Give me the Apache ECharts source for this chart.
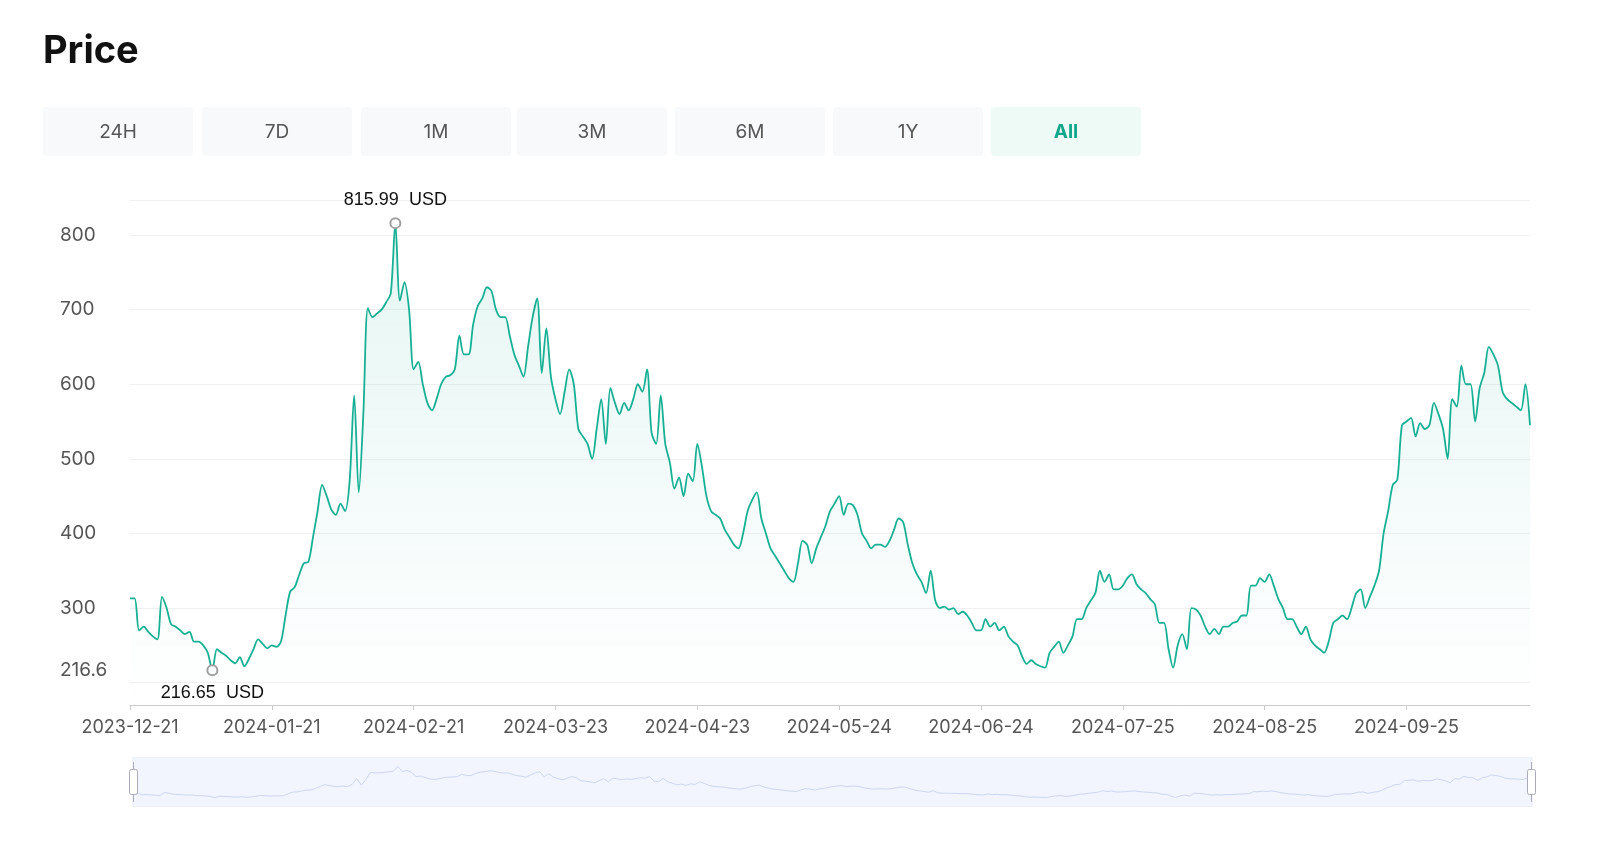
<!DOCTYPE html>
<html><head><meta charset="utf-8">
<script src="https://cdn.jsdelivr.net/npm/echarts@6/dist/echarts.min.js"></script>
<style>
body{margin:0;background:#fff;font-family:Inter,"Noto Sans",sans-serif;width:1600px;height:846px;overflow:hidden;position:relative}
#title{position:absolute;left:43px;top:26px;font-size:38px;font-weight:700;color:#111}
.btn{position:absolute;top:107px;height:49px;width:150px;background:#f7f9fa;border-radius:4px;color:#555;font-size:19px;display:flex;align-items:center;justify-content:center}
.btn.on{background:#eefaf6;color:#12a68a;font-weight:700}
#chart{position:absolute;left:0;top:0;width:1600px;height:846px}
</style></head><body>
<div id="chart"></div>
<div id="title">Price</div>
<div id="btns"></div>
<script>
const buttons=["24H","7D","1M","3M","6M","1Y","All"];
const buttonX=[43,202,361,517,675,833,991];
const startDate="2023-12-21";
const yLabels=[216.6,300,400,500,600,700,800];
const prices=[
313,313,270,275,268,262,258,315,300,278,
275,270,265,268,255,255,250,240,216.65,245,
240,236,230,226,234,222,232,245,258,252,
246,250,248,255,290,322,328,345,360,362,
395,430,465,450,432,425,440,430,470,585,
455,560,702,690,695,700,710,722,815.99,712,
737,700,620,630,600,575,565,580,600,610,
612,620,665,640,640,680,705,715,730,725,
700,690,690,665,640,625,610,650,690,715,
615,675,610,580,560,590,620,600,540,530,
520,500,540,580,520,595,575,560,575,565,
580,600,590,620,535,520,585,520,495,460,
475,450,480,470,520,490,450,430,425,420,
405,395,385,380,400,430,445,455,420,400,
380,370,360,350,340,335,360,390,385,360,
380,395,410,430,440,450,425,440,438,425,
400,390,380,385,385,382,390,405,420,415,
385,360,345,335,320,350,310,300,302,298,
300,292,295,290,280,270,270,285,275,280,
270,275,262,255,250,235,225,230,225,222,
220,240,248,255,240,250,262,285,285,300,
310,320,350,335,345,325,325,330,340,345,
332,325,320,312,305,280,280,245,220,250,
265,245,300,298,290,275,265,272,265,275,
275,280,282,290,290,330,330,340,335,345,
330,312,300,285,285,275,265,275,258,250,
245,240,255,280,285,290,285,300,320,325,
300,315,330,350,400,430,465,472,545,550,
555,530,548,540,545,575,560,540,500,580,
570,625,600,600,550,595,615,650,640,625,
590,580,575,570,565,600,545];

const bc=document.getElementById('btns');
buttons.forEach((b,i)=>{const d=document.createElement('div');d.className='btn'+(b==='All'?' on':'');d.style.left=buttonX[i]+'px';d.textContent=b;bc.appendChild(d);});

const dates=[];
const d0=new Date(startDate+"T00:00:00Z");
for(let i=0;i<prices.length;i++){const d=new Date(d0.getTime()+i*86400000);dates.push(d.toISOString().slice(0,10));}

const chart=echarts.init(document.getElementById('chart'));
chart.setOption({
  animation:false,
  grid:{left:130,right:70,top:200,bottom:141},
  xAxis:{type:'category',data:dates,boundaryGap:false,
    axisLine:{lineStyle:{color:'#ccc'}},
    axisTick:{interval:30,lineStyle:{color:'#ccc'}},
    axisLabel:{interval:30,color:'#555',fontSize:18,margin:14,fontFamily:'Inter'}},
  yAxis:{type:'value',min:170,max:847,
    axisLine:{show:false},axisTick:{show:false},
    axisLabel:{customValues:yLabels,color:'#555',fontSize:19,align:'left',margin:70,fontFamily:'Inter',
      formatter:v=>String(v)},
    splitLine:{show:true,lineStyle:{color:'#f0f0f0'}}},
  dataZoom:[{type:'slider',start:0,end:100,left:130,right:70,top:757,height:50,
    borderColor:'#eef0f8',backgroundColor:'#f8f9fe',fillerColor:'rgba(238,241,253,0.6)',
    dataBackground:{lineStyle:{color:'#9aabe0',width:1},areaStyle:{color:'rgba(220,226,245,0.1)'}},
    selectedDataBackground:{lineStyle:{color:'#9aabe0',width:1},areaStyle:{color:'rgba(220,226,245,0.1)'}},
    handleSize:'80%',showDetail:false,moveHandleSize:0,
    handleStyle:{color:'#fff',borderColor:'#aab'}}],
  series:[{type:'line',data:prices,symbol:'none',smooth:0.3,
    lineStyle:{color:'#17b095',width:1.8},
    areaStyle:{color:new echarts.graphic.LinearGradient(0,0,0,1,[{offset:0,color:'rgba(23,176,149,0.16)'},{offset:1,color:'rgba(23,176,149,0.0)'}])},
    markPoint:{symbol:'circle',symbolSize:10,z:10,
      itemStyle:{color:'#ffffff',borderColor:'#a0a0a0',borderWidth:2},
      data:[
        {type:'max',itemStyle:{color:'#ffffff',borderColor:'#a0a0a0',borderWidth:2},label:{show:true,position:'top',distance:8,color:'#111',fontSize:18,formatter:p=>p.value.toFixed(2)+'  USD'}},
        {type:'min',itemStyle:{color:'#ffffff',borderColor:'#a0a0a0',borderWidth:2},label:{show:true,position:'bottom',distance:8,color:'#111',fontSize:18,formatter:p=>p.value.toFixed(2)+'  USD'}}
      ]}}]
});
</script></body></html>
